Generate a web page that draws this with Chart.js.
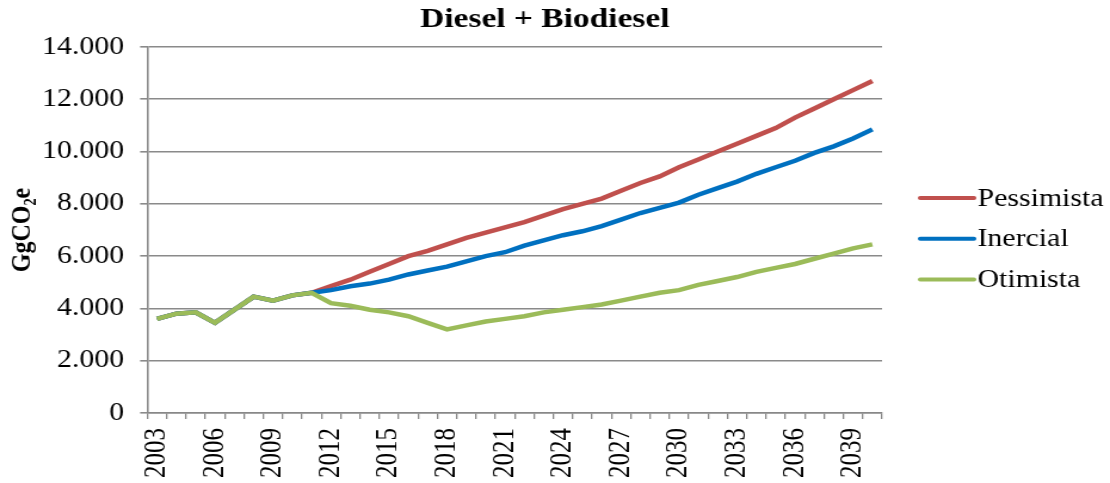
<!DOCTYPE html>
<html lang="pt">
<head>
    <meta charset="UTF-8">
    <title>Diesel + Biodiesel</title>
    <script src="https://cdn.jsdelivr.net/npm/chart.js"></script>
    <style>
        body {
            margin: 0;
            background: #fff;
        }
    </style>
</head>
<body>

    <!-- drawn at 930 wide and stretched to 1110, like the original picture -->
    <canvas id="chart" width="930" height="483" style="display:block;width:1110px;height:483px"></canvas>

    <script>
        const years = [
            '2003', '2004', '2005', '2006', '2007', '2008', '2009', '2010', '2011', '2012',
            '2013', '2014', '2015', '2016', '2017', '2018', '2019', '2020', '2021', '2022',
            '2023', '2024', '2025', '2026', '2027', '2028', '2029', '2030', '2031', '2032',
            '2033', '2034', '2035', '2036', '2037', '2038', '2039', '2040'
        ];
        const pessimista = [
            3600, 3800, 3850, 3450, 3950, 4450, 4300, 4500, 4600, 4850,
            5100, 5400, 5700, 6000, 6200, 6450, 6700, 6900, 7100, 7300,
            7550, 7800, 8000, 8200, 8500, 8800, 9050, 9400, 9700, 10000,
            10300, 10600, 10900, 11300, 11650, 12000, 12350, 12700
        ];
        const inercial = [
            3600, 3800, 3850, 3450, 3950, 4450, 4300, 4500, 4600, 4700,
            4850, 4950, 5100, 5300, 5450, 5600, 5800, 6000, 6150, 6400,
            6600, 6800, 6950, 7150, 7400, 7650, 7850, 8050, 8350, 8600,
            8850, 9150, 9400, 9650, 9950, 10200, 10500, 10850
        ];
        const otimista = [
            3600, 3800, 3850, 3450, 3950, 4450, 4300, 4500, 4600, 4200,
            4100, 3950, 3850, 3700, 3450, 3200, 3350, 3500, 3600, 3700,
            3850, 3950, 4050, 4150, 4300, 4450, 4600, 4700, 4900, 5050,
            5200, 5400, 5550, 5700, 5900, 6100, 6300, 6450
        ];
        const seriesNames = ['Pessimista', 'Inercial', 'Otimista'];
        const seriesColors = ['#C0504D', '#0070C0', '#9BBB59'];

        const serif = "'Liberation Serif', 'Times New Roman', serif";
        Chart.defaults.font.family = serif;
        Chart.defaults.color = '#000';

        function fmt(v) {
            return v.toString().replace(/\B(?=(\d{3})+(?!\d))/g, '.');
        }

        // legend drawn by hand so the line sits right against the text
        const sideLegend = {
            id: 'sideLegend',
            afterDraw(chart) {
                const ctx = chart.ctx;
                ctx.save();
                ctx.font = '25px ' + serif;
                ctx.textBaseline = 'middle';
                ctx.textAlign = 'left';
                chart.data.datasets.forEach((ds, i) => {
                    const y = 198 + i * 40.7;
                    ctx.strokeStyle = ds.borderColor;
                    ctx.lineWidth = 4;
                    ctx.lineCap = 'round';
                    ctx.beginPath();
                    ctx.moveTo(771, y);
                    ctx.lineTo(816, y);
                    ctx.stroke();
                    ctx.fillStyle = '#000';
                    ctx.fillText(ds.label, 819, y + 1);
                });
                ctx.restore();
            }
        };

        const datasets = [pessimista, inercial, otimista].map((vals, i) => ({
            label: seriesNames[i],
            data: vals,
            borderColor: seriesColors[i],
            backgroundColor: seriesColors[i],
            borderWidth: 4.5,
            pointRadius: 0,
            tension: 0,
            fill: false,
            order: 2 - i,
            yAxisID: 'y'
        }));

        new Chart(document.getElementById('chart'), {
            type: 'line',
            data: { labels: years, datasets: datasets },
            plugins: [sideLegend],
            options: {
                responsive: false,
                animation: false,
                layout: { padding: { left: 0, right: 17, top: 0, bottom: 0 } },
                plugins: {
                    legend: { display: false },
                    tooltip: { enabled: false },
                    title: {
                        display: true,
                        text: 'Diesel + Biodiesel',
                        color: '#000',
                        font: { size: 28, weight: 'bold', family: serif },
                        padding: { top: 3, bottom: 10.4 }
                    }
                },
                scales: {
                    x: {
                        offset: true,
                        grid: {
                            offset: true,
                            drawOnChartArea: false,
                            drawTicks: true,
                            tickLength: 6,
                            color: '#888',
                            lineWidth: 1.3
                        },
                        border: { color: '#888', width: 1.5 },
                        ticks: {
                            autoSkip: false,
                            minRotation: 90,
                            maxRotation: 90,
                            padding: 9,
                            font: { size: 25 },
                            color: '#000',
                            callback: function (v, i) {
                                return i % 3 === 0 ? years[i] : '';
                            }
                        },
                        afterFit: function (s) { s.height = 70; }
                    },
                    y: {
                        min: 0,
                        max: 14000,
                        grid: {
                            color: '#8a8a8a',
                            lineWidth: 1.6,
                            tickLength: 6
                        },
                        border: { color: '#8a8a8a', width: 1.6 },
                        ticks: {
                            stepSize: 2000,
                            padding: 13.5,
                            font: { size: 25 },
                            color: '#000',
                            callback: v => fmt(v)
                        },
                        title: {
                            display: true,
                            text: 'GgCO₂e',
                            color: '#000',
                            font: { size: 24, weight: 'bold', family: serif },
                            padding: { top: 4, bottom: 0 }
                        },
                        afterFit: function (s) { s.width = 123.4; }
                    },
                    y2: {
                        position: 'right',
                        display: true,
                        grid: { display: false, drawTicks: false },
                        border: { display: false },
                        ticks: { display: false },
                        afterFit: function (s) { s.width = 174; }
                    }
                }
            }
        });
    </script>

</body>
</html>
